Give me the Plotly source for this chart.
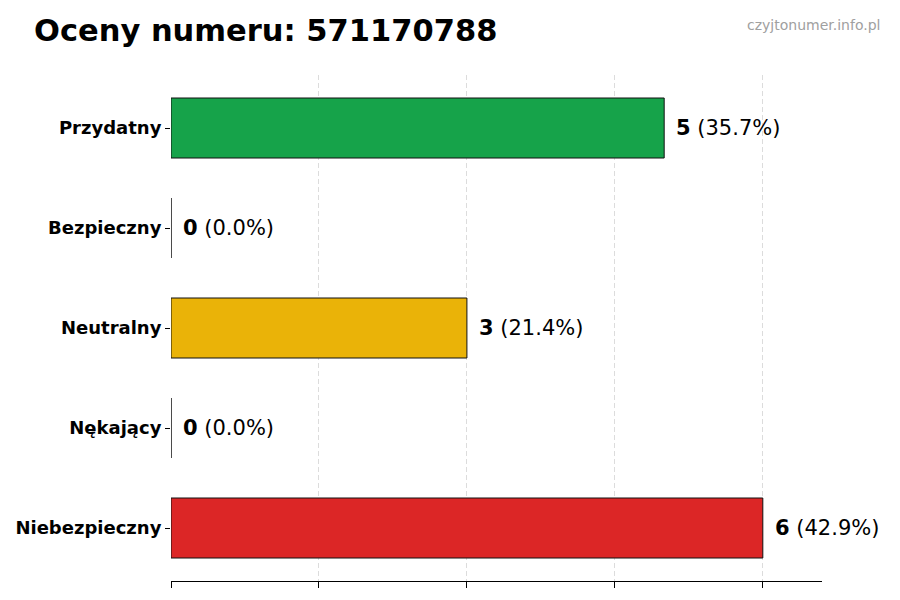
import plotly.graph_objects as go

categories = ["Przydatny", "Bezpieczny", "Neutralny", "Nękający", "Niebezpieczny"]
counts = [5, 0, 3, 0, 6]
percents = [35.7, 0.0, 21.4, 0.0, 42.9]
colors = ["#16a34a", "#9ca3af", "#eab308", "#f97316", "#dc2626"]

FONT = "DejaVu Sans"

fig = go.Figure()

fig.add_trace(go.Bar(
    x=counts,
    y=categories,
    orientation="h",
    width=0.6,
    marker=dict(color=colors, line=dict(color="#111111", width=1)),
    hoverinfo="skip",
))

# value labels to the right of each bar
for cat, n, p in zip(categories, counts, percents):
    fig.add_annotation(
        x=n, y=cat,
        text=f"<b>{n}</b> ({p:.1f}%)",
        showarrow=False,
        xanchor="left",
        xshift=10,
        font=dict(family=FONT, size=21, color="#000000"),
    )

fig.add_annotation(
    text="czyjtonumer.info.pl",
    xref="paper", yref="paper",
    x=1.0, y=1.0,
    xshift=60, yshift=50,
    xanchor="right", yanchor="middle",
    showarrow=False,
    font=dict(family=FONT, size=14, color="#a0a0a0"),
)

fig.update_layout(
    width=900,
    height=600,
    paper_bgcolor="white",
    plot_bgcolor="white",
    showlegend=False,
    margin=dict(l=163, r=86, t=67, b=27),
    title=dict(
        text="<b>Oceny numeru: 571170788</b>",
        x=26 / 900, xanchor="left",
        y=1 - 22 / 600, yanchor="middle",
        font=dict(family=FONT, size=30.5, color="#000000"),
    ),
    xaxis=dict(
        range=[0, 6.6],
        tick0=0, dtick=1.5,
        showticklabels=False,
        ticks="outside", ticklen=6, tickcolor="#000000",
        showgrid=True, gridcolor="#dcdcdc", griddash="5px,3px", gridwidth=1,
        showline=True, linecolor="#000000", linewidth=1,
        zeroline=False,
        layer="above traces",
        automargin=False,
    ),
    yaxis=dict(
        categoryorder="array", categoryarray=categories,
        range=[4.53, -0.53],
        ticks="outside", ticklen=5, tickcolor="#000000",
        tickfont=dict(family=FONT, size=18, color="#000000", weight="bold"),
        showgrid=False, showline=False, zeroline=False,
        automargin=False,
    ),
)

fig.write_html("out.html")
